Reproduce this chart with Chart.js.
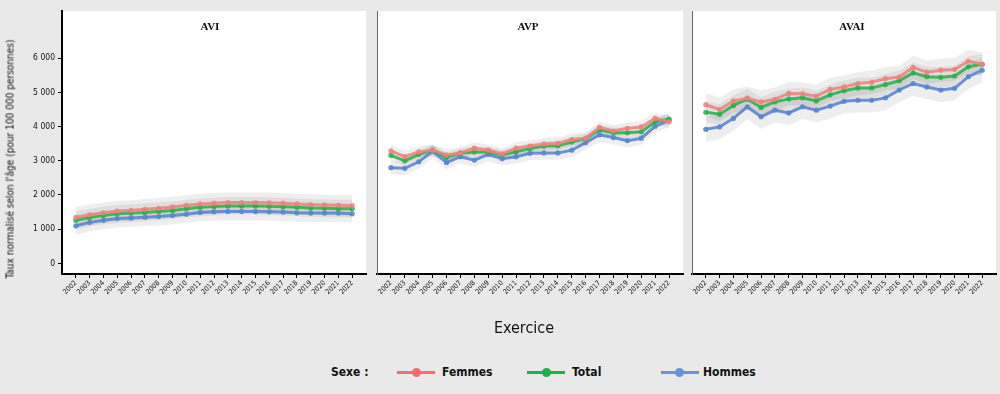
<!DOCTYPE html>
<html>
<head>
<meta charset="utf-8">
<script src="https://cdn.jsdelivr.net/npm/chart.js@4.4.1/dist/chart.umd.min.js"></script>
<style>
  html, body { margin: 0; padding: 0; }
  body { width: 1000px; height: 394px; background: #e8e9e8; position: relative; overflow: hidden;
         font-family: "Liberation Sans Narrow", "DejaVu Sans Condensed", "Roboto", sans-serif; }
  canvas { position: absolute; top: 0; }
  .ptitle { position: absolute; top: 20px; font-family: "Liberation Serif", "DejaVu Serif", serif; font-weight: bold; font-size: 11px; color: #111; transform: translateX(-50%); }
  .ytitle { position: absolute; left: 10px; top: 159px; transform: translate(-50%, -50%) rotate(-90deg); white-space: nowrap; font-size: 10px; color: #111; }
  .xtitle { position: absolute; left: 524px; top: 318px; transform: translateX(-50%); font-size: 16px; color: #111; }
  .leg { position: absolute; top: 365px; font-size: 12px; font-weight: bold; color: #111; white-space: nowrap; }
  .legline { position: absolute; top: 371px; height: 3px; width: 38px; }
  .legdot { position: absolute; top: 368px; width: 9px; height: 9px; border-radius: 50%; }
</style>
</head>
<body>
<canvas id="c1" width="370" height="320" style="left:0px"></canvas>
<canvas id="c2" width="315" height="320" style="left:372px"></canvas>
<canvas id="c3" width="313" height="320" style="left:687px"></canvas>

<div class="ptitle" style="left:210px">AVI</div>
<div class="ptitle" style="left:528px">AVP</div>
<div class="ptitle" style="left:852px">AVAI</div>
<div class="ytitle">Taux normalisé selon l'âge (pour 100 000 personnes)</div>
<div class="xtitle">Exercice</div>

<div class="leg" style="left:331px">Sexe :</div>
<div class="legline" style="left:397px;background:#f2706c"></div><div class="legdot" style="left:412px;background:#f2706c"></div>
<div class="leg" style="left:442px">Femmes</div>
<div class="legline" style="left:527px;background:#1bb04a"></div><div class="legdot" style="left:542px;background:#1bb04a"></div>
<div class="leg" style="left:572px">Total</div>
<div class="legline" style="left:661px;background:#6a92d6"></div><div class="legdot" style="left:675px;background:#6a92d6"></div>
<div class="leg" style="left:703px">Hommes</div>

<script>
// ---- data ----
const years = [2002,2003,2004,2005,2006,2007,2008,2009,2010,2011,2012,2013,2014,2015,2016,2017,2018,2019,2020,2021,2022];
const yTickValues = [0,1000,2000,3000,4000,5000,6000];
const yTickLabels = ['0','1 000','2 000','3 000','4 000','5 000','6 000'];
const seriesNames = ['Femmes','Total','Hommes'];
const panelNames = ['AVI','AVP','AVAI'];

const aviFemmes = [1350,1420,1480,1530,1550,1580,1610,1650,1700,1740,1760,1780,1780,1780,1770,1760,1740,1720,1710,1700,1690];
const aviTotal  = [1260,1340,1400,1450,1470,1490,1520,1550,1600,1640,1660,1680,1680,1680,1670,1660,1640,1620,1610,1600,1600];
const aviHommes = [1100,1200,1260,1310,1330,1350,1370,1400,1440,1490,1510,1520,1520,1520,1510,1500,1480,1470,1470,1470,1450];

const avpFemmes = [3290,3120,3260,3310,3170,3230,3370,3310,3200,3370,3430,3490,3510,3620,3660,3980,3870,3950,3990,4240,4140];
const avpTotal  = [3160,3000,3190,3310,3100,3220,3260,3260,3170,3260,3360,3430,3440,3550,3650,3900,3820,3820,3850,4140,4220];
const avpHommes = [2800,2780,2970,3280,2950,3120,3020,3190,3060,3120,3220,3230,3230,3310,3530,3760,3680,3590,3660,4010,4190];

const avaiFemmes = [4640,4500,4750,4830,4720,4800,4970,4960,4890,5090,5160,5260,5300,5400,5450,5730,5590,5650,5670,5910,5830];
const avaiTotal  = [4420,4360,4620,4800,4560,4720,4810,4840,4750,4930,5050,5130,5130,5230,5340,5570,5460,5440,5480,5750,5820];
const avaiHommes = [3920,3990,4240,4580,4290,4480,4400,4580,4480,4600,4740,4770,4770,4840,5070,5260,5160,5070,5120,5460,5650];

// confidence band half-widths (Femmes, Total, Hommes)
const aviBand  = [300, 260, 260];
const avpBand  = [170, 150, 200];
const avaiBand = [340, 300, 360];

// ---- styles ----
const lineColors = ['rgba(240,128,124,0.85)','rgba(40,176,72,0.85)','rgba(90,134,208,0.9)'];
const bandColor = 'rgba(0,0,0,0.065)';
const FONT = '"Liberation Sans Narrow", "DejaVu Sans Condensed", Roboto, sans-serif';

const whiteArea = {
  id: 'whiteArea',
  beforeDraw(chart) {
    const a = chart.chartArea, ctx = chart.ctx;
    ctx.save(); ctx.fillStyle = '#ffffff';
    ctx.fillRect(a.left, a.top, a.right - a.left, a.bottom - a.top);
    ctx.restore();
  }
};

function makePanel(id, seriesList, bands, opts) {
  const datasets = [];
  seriesList.forEach((vals, s) => {
    datasets.push({ data: years.map((x, i) => ({x, y: vals[i] + bands[s]})), borderWidth: 0, pointRadius: 0, fill: false, order: 5, borderColor: 'transparent' });
    datasets.push({ data: years.map((x, i) => ({x, y: vals[i] - bands[s]})), borderWidth: 0, pointRadius: 0, fill: '-1', backgroundColor: bandColor, order: 5, borderColor: 'transparent' });
  });
  seriesList.forEach((vals, s) => {
    datasets.push({ label: seriesNames[s], data: years.map((x, i) => ({x, y: vals[i]})), borderColor: lineColors[s], backgroundColor: lineColors[s],
      borderWidth: 3, pointRadius: 2.6, pointBorderWidth: 0, fill: false, order: 0 });
  });
  return new Chart(document.getElementById(id), {
    type: 'line',
    data: { datasets },
    plugins: [whiteArea],
    options: {
      responsive: false, animation: false, devicePixelRatio: 1,
      layout: { padding: { top: 11, right: opts.padRight, left: 0, bottom: 0 } },
      plugins: { legend: { display: false }, tooltip: { enabled: false } },
      scales: {
        x: {
          type: 'linear', min: 2001, max: 2023,
          afterBuildTicks: sc => { sc.ticks = years.map(v => ({ value: v })); },
          afterFit: sc => { sc.height = 46; },
          ticks: { autoSkip: false, minRotation: 45, maxRotation: 45, padding: 1, color: '#111',
                   font: { family: FONT, size: 7 },
                   callback: (v) => String(years[years.indexOf(v)]) },
          grid: { display: true, drawOnChartArea: false, drawTicks: true, tickLength: 4, color: '#000', lineWidth: 1 },
          border: { display: true, color: '#000', width: 2 }
        },
        y: {
          min: -310, max: 7380,
          afterBuildTicks: sc => { sc.ticks = yTickValues.map(v => ({ value: v })); },
          afterFit: sc => { sc.width = opts.yWidth; },
          ticks: { display: opts.showY, padding: 3, color: '#111', font: { family: FONT, size: 8.5 },
                   callback: (v) => yTickLabels[yTickValues.indexOf(v)] },
          grid: { display: true, drawOnChartArea: false, drawTicks: opts.showY, tickLength: 4, color: '#000' },
          border: { display: true, color: opts.showY ? '#000' : '#666', width: opts.showY ? 2 : 1 }
        }
      }
    }
  });
}

makePanel('c1', [aviFemmes, aviTotal, aviHommes], aviBand, { yWidth: 62, padRight: 2, showY: true });
makePanel('c2', [avpFemmes, avpTotal, avpHommes], avpBand, { yWidth: 5, padRight: 4, showY: false });
makePanel('c3', [avaiFemmes, avaiTotal, avaiHommes], avaiBand, { yWidth: 5, padRight: 2, showY: false });
</script>
</body>
</html>
